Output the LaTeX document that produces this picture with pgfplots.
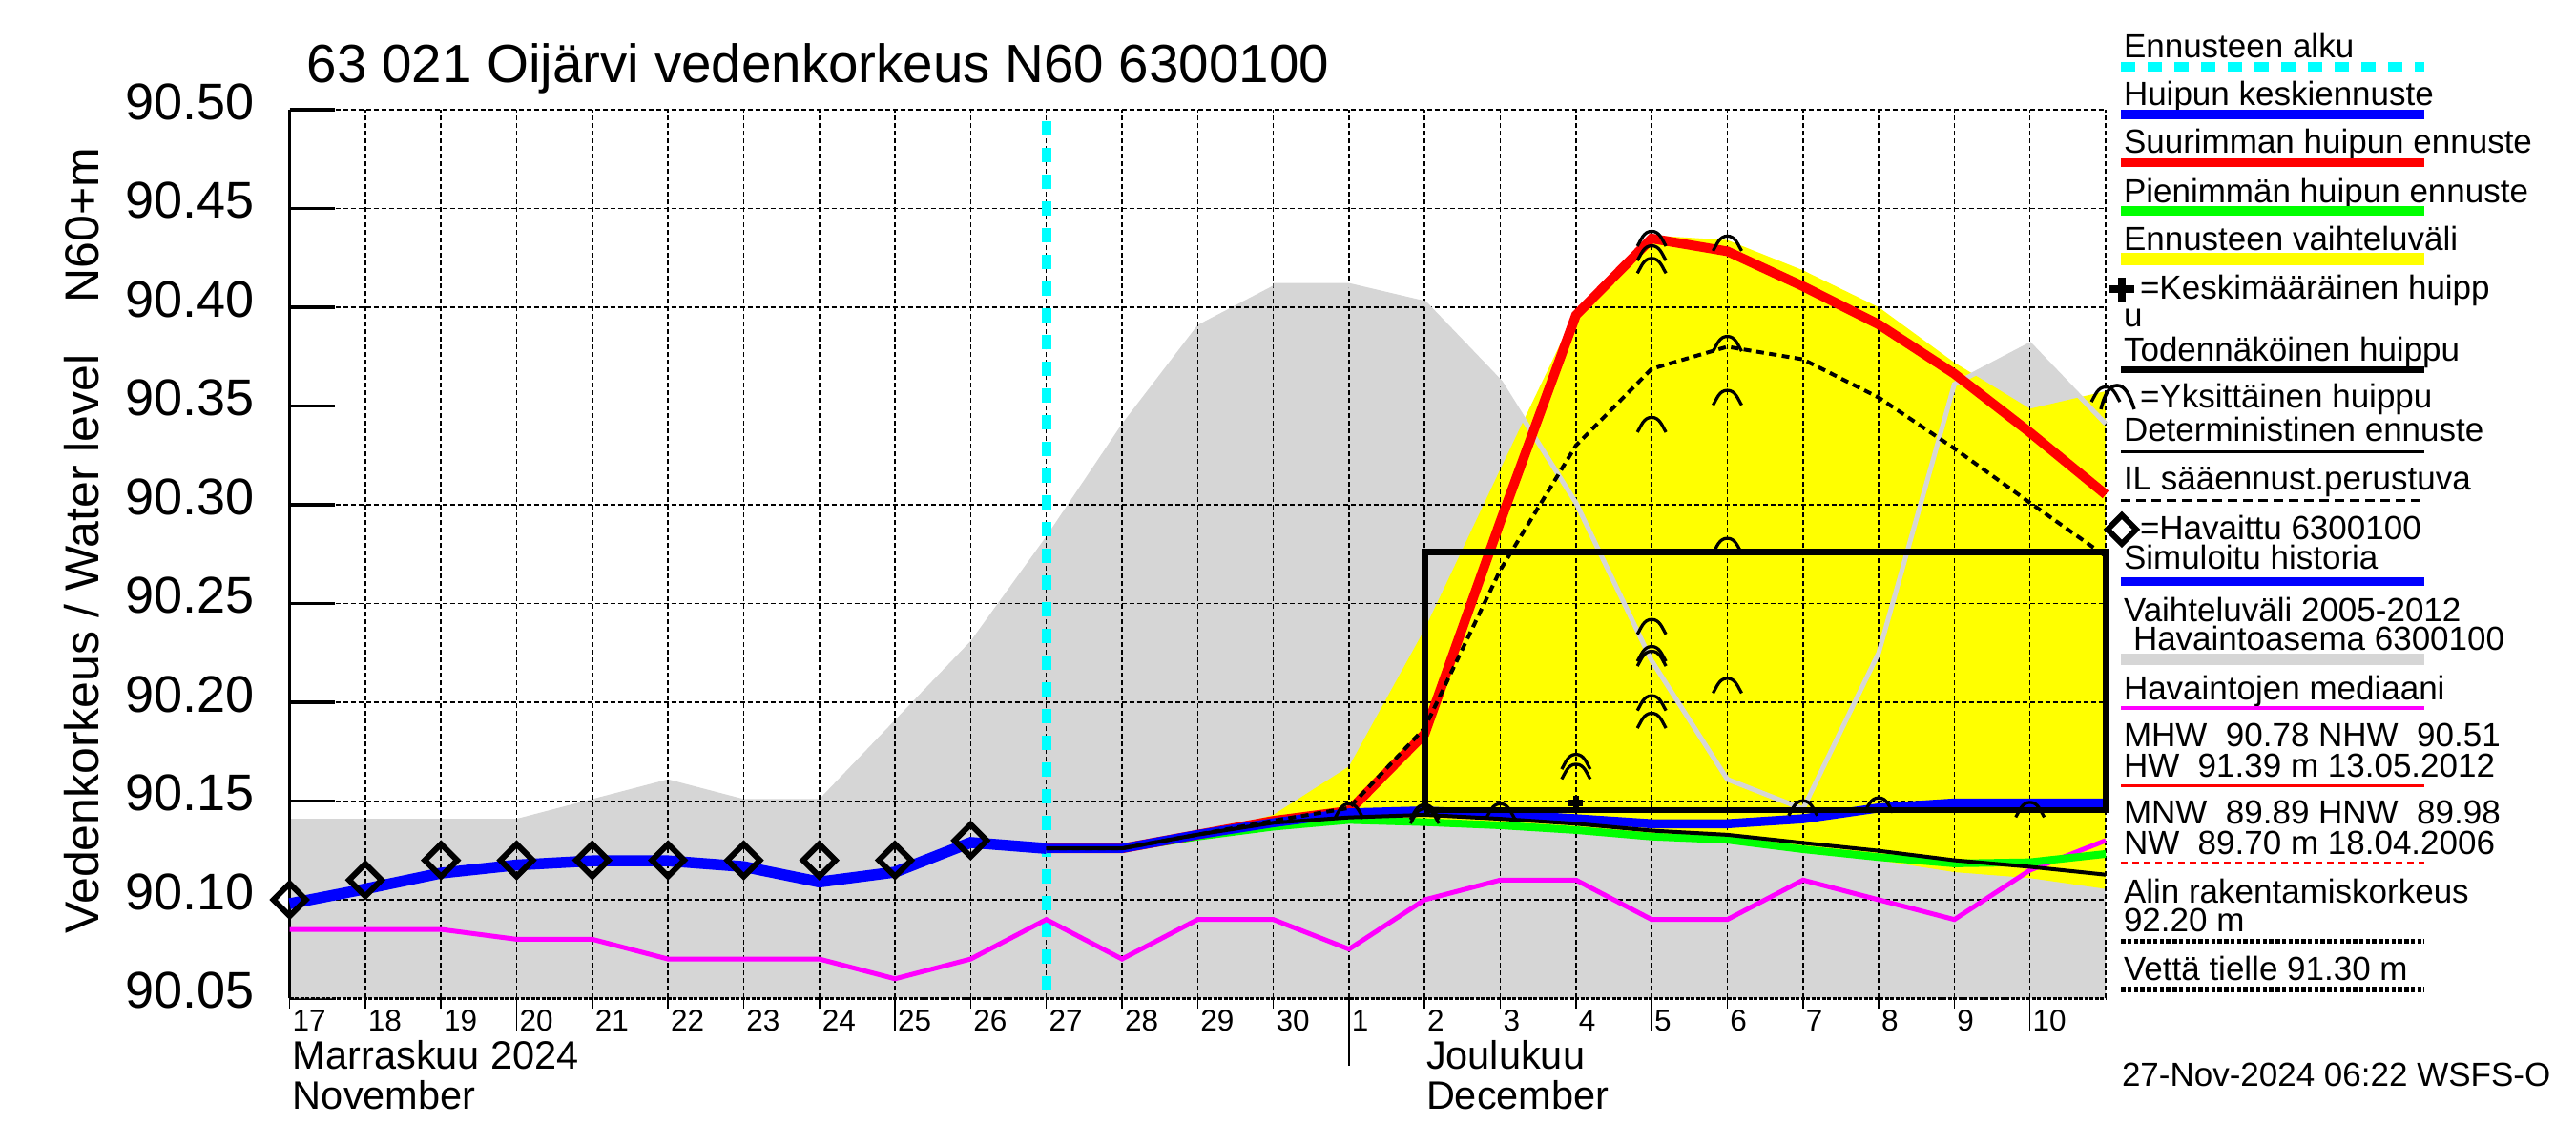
\documentclass[border=0pt]{standalone}
\usepackage{fontspec}
\setmainfont{Liberation Sans}
\usepackage{pgfplots}
\pgfplotsset{compat=1.18}
\definecolor{grayband}{RGB}{214,214,214}
\definecolor{cy}{RGB}{0,255,255}
\definecolor{mg}{RGB}{255,0,255}
\definecolor{yl}{RGB}{255,255,0}
\definecolor{gr}{RGB}{0,255,0}
\definecolor{bl}{RGB}{0,0,255}
\definecolor{rd}{RGB}{255,0,0}
\pgfdeclareplotmark{peakarc}{%
 \pgfpathmoveto{\pgfqpoint{-3pt}{-1.6pt}}%
 \pgfpathcurveto{\pgfqpoint{-2.2pt}{-0.3pt}}{\pgfqpoint{-1.7pt}{1.5pt}}{\pgfqpoint{0pt}{1.5pt}}%
 \pgfpathcurveto{\pgfqpoint{1.7pt}{1.5pt}}{\pgfqpoint{2.2pt}{-0.3pt}}{\pgfqpoint{3pt}{-1.6pt}}%
 \pgfusepathqstroke}
\tikzset{gridl/.style={black, line width=0.3pt, dash pattern=on 1pt off 0.6pt}}
\newcommand\lf{\fontsize{7}{8}\selectfont}
\begin{document}
\begin{tikzpicture}
\useasboundingbox (0,0) rectangle (540pt,240pt);
\begin{axis}[
  at={(60.72pt,30.7pt)}, anchor=south west,
  scale only axis, width=380.68pt, height=186.3pt,
  xmin=0, xmax=24, ymin=90.05, ymax=90.50,
  clip=false,
  axis line style={draw=none},
  xtick={0,...,23},
  xticklabels={17,18,19,20,21,22,23,24,25,26,27,28,29,30,1,2,3,4,5,6,7,8,9,10},
  x tick style={draw=none},
  xticklabel style={anchor=base west, inner sep=0pt, xshift=0.4pt, yshift=-6.84pt, font=\fontsize{6.3}{7}\selectfont},
  ytick={90.05,90.10,90.15,90.20,90.25,90.30,90.35,90.40,90.45,90.50},
  yticklabels={90.05,90.10,90.15,90.20,90.25,90.30,90.35,90.40,90.45,90.50},
  ytick pos=left, xtick pos=bottom,
  tick align=inside, major tick length=9.4pt,
  y tick style={black, line width=0.7pt},
  yticklabel style={anchor=east, inner sep=0pt, xshift=-7.12pt, yshift=1.66pt, font=\fontsize{10.8}{13}\selectfont},
  /pgf/number format/assume math mode=true,
]
% variation range 2005-2012
\addplot[draw=none, fill=grayband] coordinates {(0,90.05) (0,90.141) (1,90.141) (2,90.141) (3,90.141) (4,90.151) (5,90.161) (6,90.151) (7,90.151) (8,90.191) (9,90.231) (10,90.284) (11,90.341) (12,90.391) (13,90.411) (14,90.411) (15,90.402) (16,90.362) (17,90.301) (18,90.221) (19,90.161) (20,90.146) (21,90.225) (22,90.361) (23,90.381) (24,90.341) (24,90.05)} -- cycle;
% forecast range
\addplot[draw=none, fill=yl] coordinates {(12,90.133) (13,90.143) (14,90.1675) (15,90.237) (16,90.318) (17,90.398) (18,90.4364) (19,90.434) (20,90.4187) (21,90.400) (22,90.372) (23,90.3486) (24,90.3575) (24,90.1055) (23,90.111) (22,90.114) (21,90.120) (20,90.124) (19,90.129) (18,90.131) (17,90.134) (16,90.136) (15,90.138) (14,90.139) (13,90.136) (12,90.133)} -- cycle;
% grid
\pgfplotsinvokeforeach{1,...,24}{\draw[gridl] (axis cs:#1,90.05) -- (axis cs:#1,90.50);}
\pgfplotsinvokeforeach{90.10,90.15,90.20,90.25,90.30,90.35,90.40,90.45,90.50}{\draw[gridl] (axis cs:0,#1) -- (axis cs:24,#1);}
% axis lines and x ticks
\draw[black, line width=0.6pt] (axis cs:0,90.05) -- (axis cs:0,90.50);
\draw[black, line width=0.45pt, dash pattern=on 0.8pt off 0.3pt] (axis cs:0,90.05) -- (axis cs:24,90.05);
\pgfplotsinvokeforeach{0,...,23}{\draw[black, line width=0.3pt] (axis cs:#1,90.05) -- ++(0pt,-2.1pt);}
\pgfplotsinvokeforeach{3,8,18,23}{\draw[black, line width=0.3pt] (axis cs:#1,90.05) -- ++(0pt,-7pt);}
\draw[black, line width=0.3pt] (axis cs:14,90.05) -- ++(0pt,-14.1pt);
% gray boundary line over yellow
\addplot[grayband, line width=1pt] coordinates {(13,90.411) (14,90.411) (15,90.402) (16,90.362) (17,90.301) (18,90.221) (19,90.161) (20,90.146) (21,90.225) (22,90.361) (23,90.381) (24,90.341)};
% forecast start
\addplot[cy, line width=2pt, dash pattern=on 3pt off 2.6pt] coordinates {(10,90.494) (10,90.05)};
% median of observations
\addplot[mg, line width=1pt] coordinates {(0,90.085) (1,90.085) (2,90.085) (3,90.080) (4,90.080) (5,90.070) (6,90.070) (7,90.070) (8,90.060) (9,90.070) (10,90.090) (11,90.070) (12,90.090) (13,90.090) (14,90.075) (15,90.100) (16,90.110) (17,90.110) (18,90.090) (19,90.090) (20,90.110) (21,90.100) (22,90.090) (23,90.115) (24,90.130)};
% smallest peak forecast
\addplot[gr, line width=1.6pt] coordinates {(10,90.126) (11,90.126) (12,90.132) (13,90.137) (14,90.1404) (15,90.1393) (16,90.1377) (17,90.1353) (18,90.132) (19,90.1304) (20,90.1256) (21,90.1216) (22,90.1184) (23,90.119) (24,90.1232)};
% largest peak forecast
\addplot[rd, line width=2pt] coordinates {(10,90.126) (11,90.126) (12,90.133) (13,90.140) (14,90.145) (15,90.184) (16,90.2915) (17,90.396) (18,90.4348) (19,90.4283) (20,90.4106) (21,90.3913) (22,90.3663) (23,90.3366) (24,90.3052)};
% simulated history
\addplot[bl, line width=2.3pt] coordinates {(0,90.098) (1,90.1055) (2,90.1135) (3,90.1176) (4,90.1197) (5,90.1197) (6,90.1168) (7,90.109) (8,90.114) (9,90.129) (10,90.126)};
% mean peak forecast
\addplot[bl, line width=1.9pt] coordinates {(10,90.126) (11,90.126) (12,90.133) (13,90.139) (14,90.144) (15,90.145) (16,90.1433) (17,90.141) (18,90.1385) (19,90.1385) (20,90.141) (21,90.1465) (22,90.149) (23,90.149) (24,90.149)};
% deterministic forecast
\addplot[black, line width=0.8pt] coordinates {(10,90.126) (11,90.126) (12,90.133) (13,90.139) (14,90.1417) (15,90.143) (16,90.141) (17,90.1385) (18,90.135) (19,90.1329) (20,90.1288) (21,90.1248) (22,90.120) (23,90.1167) (24,90.1127)};
% IL weather forecast based
\addplot[black, line width=0.8pt, dash pattern=on 1.6pt off 1.1pt] coordinates {(10,90.126) (11,90.126) (12,90.133) (13,90.140) (14,90.1465) (15,90.187) (16,90.267) (17,90.330) (18,90.3688) (19,90.380) (20,90.3736) (21,90.3543) (22,90.3285) (23,90.301) (24,90.274)};
% probable peak box
\addplot[black, line width=1.35pt] coordinates {(15,90.1454) (15,90.2762) (24,90.2762) (24,90.1454) (15,90.1454)};
% single peaks
\addplot[only marks, mark=peakarc, mark options={solid, line width=0.65pt, black}] coordinates {(14,90.145) (15,90.1445) (15,90.1425) (16,90.145) (17,90.165) (17,90.170) (18,90.4348) (18,90.4275) (18,90.4211) (18,90.3406) (18,90.2383) (18,90.2246) (18,90.2222) (18,90.1997) (18,90.1908) (19,90.4324) (19,90.3816) (19,90.3543) (19,90.2794) (19,90.2085) (20,90.1465) (21,90.148) (23,90.1457) (24,90.356)};
% mean peak
\addplot[only marks, mark=+, mark size=1.5pt, mark options={line width=1.3pt, black}] coordinates {(17,90.149)};
% observed
\addplot[only marks, mark=square, mark size=2.4pt, mark options={rotate=45, line width=1.2pt, solid, draw=black, fill=none}] coordinates {(0,90.10) (1,90.11) (2,90.12) (3,90.12) (4,90.12) (5,90.12) (6,90.12) (7,90.12) (8,90.12) (9,90.13)};
\end{axis}
\begin{scope}[shift={(0pt,240pt)},x=0.2pt,y=-0.2pt]
% title and axis labels
\node[anchor=base west, inner sep=0pt, font=\fontsize{11.3}{13}\selectfont] at (321,87) {63 021 Oijärvi vedenkorkeus N60 6300100};
\node[rotate=90, anchor=base, inner sep=0pt, font=\fontsize{10}{12}\selectfont] at (103,236) {N60+m};
\node[rotate=90, anchor=base, inner sep=0pt, font=\fontsize{10}{12}\selectfont] at (103,675) {Vedenkorkeus / Water level};
\node[anchor=base west, inner sep=0pt, font=\fontsize{8.3}{10}\selectfont] at (306,1120.7) {Marraskuu 2024};
\node[anchor=base west, inner sep=0pt, font=\fontsize{8.3}{10}\selectfont] at (306,1163) {November};
\node[anchor=base west, inner sep=0pt, font=\fontsize{8.3}{10}\selectfont] at (1494,1120.7) {Joulukuu};
\node[anchor=base west, inner sep=0pt, font=\fontsize{8.3}{10}\selectfont] at (1494,1163) {December};
% legend
\node[anchor=base west, inner sep=0pt, font=\lf] at (2225,60.5) {Ennusteen alku};
\draw[cy, line width=1.9pt, dash pattern=on 3pt off 2.6pt] (2223,70) -- (2541,70);
\node[anchor=base west, inner sep=0pt, font=\lf] at (2225,111) {Huipun keskiennuste};
\draw[bl, line width=1.9pt] (2223,119.8) -- (2541,119.8);
\node[anchor=base west, inner sep=0pt, font=\lf] at (2225,160.7) {Suurimman huipun ennuste};
\draw[rd, line width=1.9pt] (2223,170.7) -- (2541,170.7);
\node[anchor=base west, inner sep=0pt, font=\lf] at (2225,212.4) {Pienimmän huipun ennuste};
\draw[gr, line width=1.9pt] (2223,220.8) -- (2541,220.8);
\node[anchor=base west, inner sep=0pt, font=\lf] at (2225,262.5) {Ennusteen vaihteluväli};
\draw[yl, line width=2.6pt] (2223,271.3) -- (2541,271.3);
\draw[black, line width=1.6pt] (2210,303) -- (2237,303) (2223.5,291) -- (2223.5,316);
\node[anchor=base west, inner sep=0pt, font=\lf] at (2242,313.8) {=Keskimääräinen huipp};
\node[anchor=base west, inner sep=0pt, font=\lf] at (2225,342.5) {u};
\node[anchor=base west, inner sep=0pt, font=\lf] at (2225,378.9) {Todennäköinen huippu};
\draw[black, line width=1.5pt] (2223,387.7) -- (2541,387.7);
\draw[black, line width=0.7pt] (2202,429) .. controls (2206,413) and (2211,404) .. (2219,404) .. controls (2227,404) and (2232,413) .. (2237,429);
\node[anchor=base west, inner sep=0pt, font=\lf] at (2242,427.9) {=Yksittäinen huippu};
\node[anchor=base west, inner sep=0pt, font=\lf] at (2225,463) {Deterministinen ennuste};
\draw[black, line width=0.6pt] (2223,473.4) -- (2541,473.4);
\node[anchor=base west, inner sep=0pt, font=\lf] at (2225,514) {IL sääennust.perustuva};
\draw[black, line width=0.6pt, dash pattern=on 2pt off 1.2pt] (2223,524.3) -- (2541,524.3);
\draw[black, line width=1.2pt] (2224,540) -- (2239,555) -- (2224,570) -- (2209,555) -- cycle;
\node[anchor=base west, inner sep=0pt, font=\lf] at (2242,565.6) {=Havaittu 6300100};
\node[anchor=base west, inner sep=0pt, font=\lf] at (2225,597) {Simuloitu historia};
\draw[bl, line width=1.9pt] (2223,609.6) -- (2541,609.6);
\node[anchor=base west, inner sep=0pt, font=\lf] at (2225,651.7) {Vaihteluväli 2005-2012};
\node[anchor=base west, inner sep=0pt, font=\lf] at (2235,681.5) {Havaintoasema 6300100};
\draw[grayband, line width=2.3pt] (2223,691) -- (2541,691);
\node[anchor=base west, inner sep=0pt, font=\lf] at (2225,733.2) {Havaintojen mediaani};
\draw[mg, line width=0.8pt] (2223,741.6) -- (2541,741.6);
\node[anchor=base west, inner sep=0pt, font=\lf] at (2225,783) {MHW\ \ 90.78 NHW\ \ 90.51};
\node[anchor=base west, inner sep=0pt, font=\lf] at (2225,814.3) {HW\ \ 91.39 m 13.05.2012};
\draw[rd, line width=0.6pt] (2223,823.1) -- (2541,823.1);
\node[anchor=base west, inner sep=0pt, font=\lf] at (2225,864) {MNW\ \ 89.89 HNW\ \ 89.98};
\node[anchor=base west, inner sep=0pt, font=\lf] at (2225,895.4) {NW\ \ 89.70 m 18.04.2006};
\draw[rd, line width=0.6pt, dash pattern=on 1.4pt off 1pt] (2223,905) -- (2541,905);
\node[anchor=base west, inner sep=0pt, font=\lf] at (2225,946.4) {Alin rakentamiskorkeus};
\node[anchor=base west, inner sep=0pt, font=\lf] at (2225,977) {92.20 m};
\draw[black, line width=1.1pt, dash pattern=on 0.9pt off 0.45pt] (2223,986.5) -- (2541,986.5);
\node[anchor=base west, inner sep=0pt, font=\lf] at (2225,1027.9) {Vettä tielle 91.30 m};
\draw[black, line width=1.1pt, dash pattern=on 0.9pt off 0.45pt] (2223,1037) -- (2541,1037);
\node[anchor=base west, inner sep=0pt, font=\lf] at (2223,1138.8) {27-Nov-2024 06:22 WSFS-O};
\end{scope}
\end{tikzpicture}
\end{document}
